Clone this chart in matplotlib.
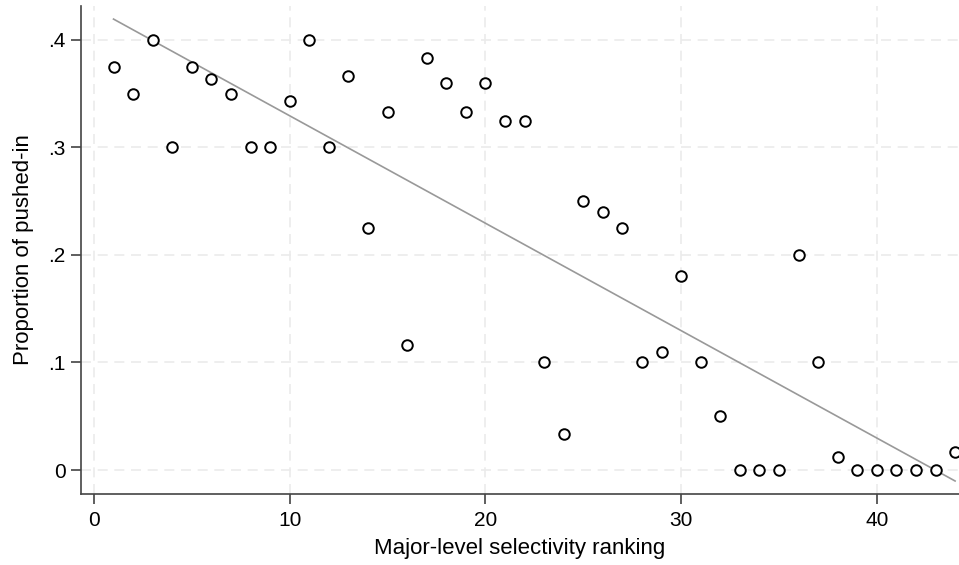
import numpy as np
import matplotlib
matplotlib.use("Agg")
import matplotlib.pyplot as plt

plt.rcParams['font.family'] = ['Liberation Sans', 'DejaVu Sans']

# selectivity rank of each major and the share of pushed-in students
ranking = list(range(1, 45))
pushed_in = [0.375, 0.35, 0.40, 0.30, 0.375, 0.3636, 0.35, 0.30, 0.30, 0.3429,
             0.40, 0.30, 0.3667, 0.225, 0.3333, 0.1167, 0.3833, 0.36, 0.3333, 0.36,
             0.325, 0.325, 0.10, 0.0333, 0.25, 0.24, 0.225, 0.10, 0.11, 0.18,
             0.10, 0.05, 0.0, 0.0, 0.0, 0.20, 0.10, 0.0125, 0.0, 0.0,
             0.0, 0.0, 0.0, 0.0167]

xticks = [0, 10, 20, 30, 40]
yticks = [0, 0.1, 0.2, 0.3, 0.4]
yticklabels = ["0", ".1", ".2", ".3", ".4"]

x = np.array(ranking, dtype=float)
y = np.array(pushed_in)
slope, intercept = np.polyfit(x, y, 1)

fig = plt.figure(figsize=(9.59, 5.65), dpi=100)
ax = fig.add_axes([0.0845, 0.1257, 0.9155, 0.8637])

ax.grid(True, color='#ebebeb', linestyle=(0, (6, 4)), linewidth=1.2)
ax.set_axisbelow(True)

ax.plot(x, intercept + slope * x, color='#999999', linewidth=1.2, zorder=2)
ax.plot(x, y, 'o', markerfacecolor='white', markeredgecolor='black',
        markersize=7.6, markeredgewidth=1.4, zorder=3, clip_on=False)

ax.set_xlim(-0.66, 44.2)
ax.set_ylim(-0.0223, 0.4316)
ax.set_xticks(xticks)
ax.set_yticks(yticks)
ax.set_yticklabels(yticklabels)
ax.tick_params(axis='both', direction='out', length=7, width=1.1,
               colors='#333333', labelcolor='black', labelsize=15)
ax.tick_params(axis='x', pad=5)
ax.tick_params(axis='y', pad=4)

for side in ('top', 'right'):
    ax.spines[side].set_visible(False)
for side in ('left', 'bottom'):
    ax.spines[side].set_color('#444444')
    ax.spines[side].set_linewidth(1.2)

ax.set_xlabel("Major-level selectivity ranking", fontsize=16, labelpad=6)
ax.set_ylabel("Proportion of pushed-in", fontsize=16, labelpad=10)

fig.savefig("out.png", dpi=100)
